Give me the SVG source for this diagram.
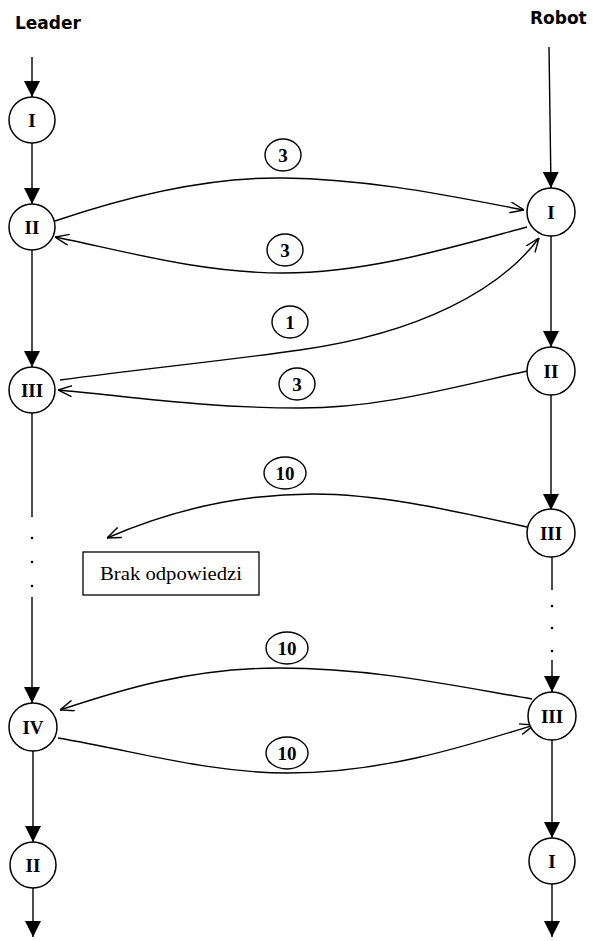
<svg xmlns="http://www.w3.org/2000/svg" width="594" height="941" viewBox="0 0 594 941">
<style>
.ln{stroke:#000;stroke-width:1.4;fill:none}
.nd{stroke:#000;stroke-width:1.5;fill:#fff}
.lb{stroke:#000;stroke-width:1.4;fill:#fff}
.nt{font-family:"Liberation Serif",serif;font-weight:bold;font-size:19px;text-anchor:middle}
.hd{font-family:"DejaVu Sans",sans-serif;font-weight:bold;font-size:17px}
.bx{font-family:"Liberation Serif",serif;font-size:18px}
</style>
<defs>
<marker id="fa" viewBox="0 0 16 16" refX="16" refY="8" markerWidth="16" markerHeight="16" markerUnits="userSpaceOnUse" orient="auto">
<path d="M0,0 L16,8 L0,16 z" fill="#000"/>
</marker>
<marker id="oa" viewBox="0 0 14 12" refX="14" refY="6" markerWidth="14" markerHeight="12" markerUnits="userSpaceOnUse" orient="auto">
<path d="M0,0.5 L14,6 L0,11.5" fill="none" stroke="#000" stroke-width="1.4"/>
</marker>
</defs>
<text class="hd" x="15" y="29">Leader</text>
<text class="hd" x="530" y="24">Robot</text>
<g id="connectors">
<line class="ln" x1="32" y1="57" x2="32" y2="97" marker-end="url(#fa)"/>
<line class="ln" x1="32" y1="143" x2="32" y2="204" marker-end="url(#fa)"/>
<line class="ln" x1="32" y1="250" x2="32" y2="367" marker-end="url(#fa)"/>
<line class="ln" x1="32" y1="413" x2="32" y2="517"/>
<circle cx="32" cy="538" r="1.3" fill="#000"/>
<circle cx="32" cy="562" r="1.3" fill="#000"/>
<circle cx="32" cy="586" r="1.3" fill="#000"/>
<line class="ln" x1="32" y1="597" x2="32" y2="703" marker-end="url(#fa)"/>
<line class="ln" x1="33" y1="751" x2="33" y2="842" marker-end="url(#fa)"/>
<line class="ln" x1="33" y1="888" x2="33" y2="937" marker-end="url(#fa)"/>
<line class="ln" x1="549" y1="47" x2="551" y2="188" marker-end="url(#fa)"/>
<line class="ln" x1="551" y1="236" x2="551" y2="347" marker-end="url(#fa)"/>
<line class="ln" x1="551" y1="395" x2="551" y2="510" marker-end="url(#fa)"/>
<line class="ln" x1="552" y1="557" x2="552" y2="590"/>
<circle cx="552" cy="606" r="1.3" fill="#000"/>
<circle cx="552" cy="628" r="1.3" fill="#000"/>
<circle cx="552" cy="651" r="1.3" fill="#000"/>
<line class="ln" x1="552" y1="660" x2="552" y2="692" marker-end="url(#fa)"/>
<line class="ln" x1="552" y1="740" x2="552" y2="838" marker-end="url(#fa)"/>
<line class="ln" x1="552" y1="884" x2="552" y2="937" marker-end="url(#fa)"/>
<path class="ln" d="M55 221 C140 192 215 177 283 178 C370 179 450 196 524 210" marker-end="url(#oa)"/>
<path class="ln" d="M527 227 C460 245 370 273 283 273 C200 273 120 250 55 237" marker-end="url(#oa)"/>
<path class="ln" d="M60 380 C150 368 230 360 300 350 C420 333 500 290 539 238" marker-end="url(#oa)"/>
<path class="ln" d="M527 371 C450 388 380 408 300 408 C200 408 120 395 58 390" marker-end="url(#oa)"/>
<path class="ln" d="M527 527 C450 510 380 494 313 494 C230 494 160 515 107 538" marker-end="url(#oa)"/>
<path class="ln" d="M532 699 C450 685 370 668 280 668 C190 668 120 690 60 710" marker-end="url(#oa)"/>
<path class="ln" d="M58 738 C140 752 210 773 287 773 C380 773 460 748 534 725" marker-end="url(#oa)"/>
</g>
<g id="L1"><circle class="nd" cx="32" cy="120" r="23"/><text class="nt" x="32" y="127">I</text></g>
<g id="L2"><circle class="nd" cx="32" cy="227" r="23"/><text class="nt" x="32" y="234">II</text></g>
<g id="L3"><circle class="nd" cx="32" cy="390" r="23"/><text class="nt" x="32" y="397">III</text></g>
<g id="L4"><circle class="nd" cx="33" cy="727" r="24"/><text class="nt" x="33" y="734">IV</text></g>
<g id="L5"><circle class="nd" cx="33" cy="865" r="23"/><text class="nt" x="33" y="872">II</text></g>
<g id="R1"><circle class="nd" cx="551" cy="212" r="24"/><text class="nt" x="551" y="219">I</text></g>
<g id="R2"><circle class="nd" cx="551" cy="371" r="24"/><text class="nt" x="551" y="378">II</text></g>
<g id="R3"><circle class="nd" cx="551" cy="533" r="24"/><text class="nt" x="551" y="540">III</text></g>
<g id="R4"><circle class="nd" cx="552" cy="716" r="24"/><text class="nt" x="552" y="723">III</text></g>
<g id="R5"><circle class="nd" cx="552" cy="861" r="23"/><text class="nt" x="552" y="868">I</text></g>
<g id="brak"><rect x="83" y="552" width="176" height="43" fill="#fff" stroke="#000" stroke-width="1.3"/><text class="bx" x="100" y="580" textLength="142" lengthAdjust="spacingAndGlyphs">Brak odpowiedzi</text></g>
<g id="m1"><ellipse class="lb" cx="283" cy="155" rx="18" ry="16"/><text class="nt" x="283" y="162">3</text></g>
<g id="m2"><ellipse class="lb" cx="285" cy="250" rx="18" ry="16"/><text class="nt" x="285" y="257">3</text></g>
<g id="m3"><ellipse class="lb" cx="290" cy="322" rx="18" ry="16"/><text class="nt" x="290" y="329">1</text></g>
<g id="m4"><ellipse class="lb" cx="297" cy="384" rx="18" ry="16"/><text class="nt" x="297" y="391">3</text></g>
<g id="m5"><ellipse class="lb" cx="285" cy="473" rx="21" ry="16"/><text class="nt" x="285" y="480">10</text></g>
<g id="m6"><ellipse class="lb" cx="287" cy="648" rx="21" ry="16"/><text class="nt" x="287" y="655">10</text></g>
<g id="m7"><ellipse class="lb" cx="287" cy="753" rx="21" ry="16"/><text class="nt" x="287" y="760">10</text></g>
</svg>
